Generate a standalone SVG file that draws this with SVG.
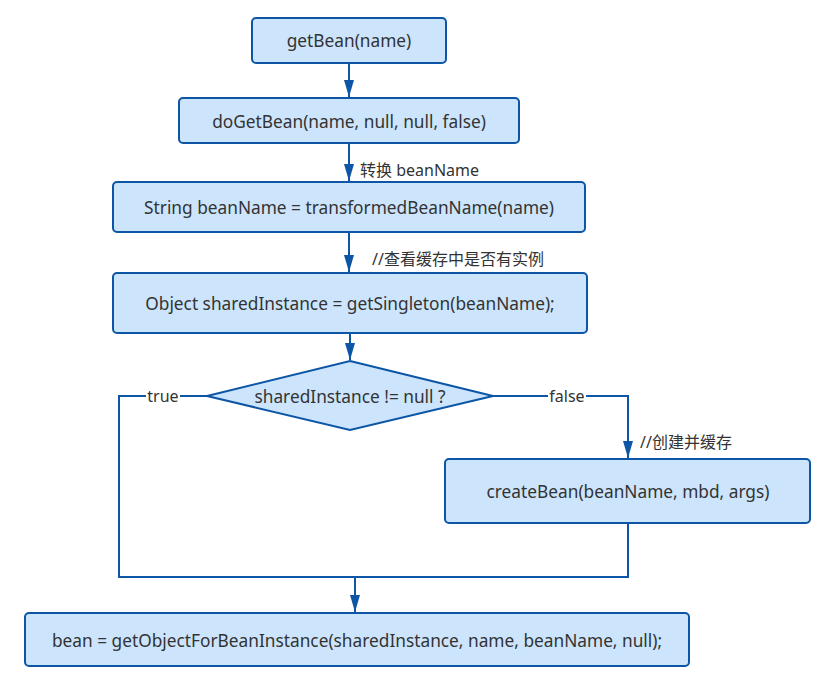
<svg xmlns="http://www.w3.org/2000/svg" width="819" height="691" viewBox="0 0 819 691">
<style>
.box{fill:#cce5fd;stroke:#0d56a6;stroke-width:2}
.t{font-family:"Noto Sans","Noto Sans CJK SC",sans-serif;font-size:17.3px;fill:#333;text-anchor:middle;dominant-baseline:central}
.l{font-family:"Noto Sans","Noto Sans CJK SC",sans-serif;font-size:16px;fill:#333;dominant-baseline:central}
.c{fill:none;stroke:#0d56a6;stroke-width:2}
.h{fill:#0d56a6}
</style>
<rect width="819" height="691" fill="#fff"/>
<g id="connectors">
<path class="c" d="M349,63 V97"/>
<path class="c" d="M349,143 V181"/>
<path class="c" d="M349,232 V272"/>
<path class="c" d="M350,333 V360"/>
<path class="c" d="M207,396 H119 V577 H628 V523"/>
<path class="c" d="M355,577 V612"/>
<path class="c" d="M493,396 H628 V458"/>
<path class="h" d="M344,80 L354,80 L349,97 Z"/>
<path class="h" d="M344,164 L354,164 L349,181 Z"/>
<path class="h" d="M344,255 L354,255 L349,272 Z"/>
<path class="h" d="M345,343 L355,343 L350,360 Z"/>
<path class="h" d="M350,595 L360,595 L355,612 Z"/>
<path class="h" d="M623,441 L633,441 L628,458 Z"/>
<rect x="146" y="386" width="34" height="20" fill="#fff"/>
<text class="l" x="163" y="396" text-anchor="middle">true</text>
<rect x="548" y="386" width="38" height="20" fill="#fff"/>
<text class="l" x="567" y="396" text-anchor="middle">false</text>
<text class="l" x="360" y="170">转换 beanName</text>
<text class="l" x="372" y="259" font-size="16.5">//查看缓存中是否有实例</text>
<text class="l" x="640" y="442" font-size="16.5">//创建并缓存</text>
</g>
<g id="getBean"><rect class="box" x="252" y="18" width="194" height="45" rx="4"/><text class="t" x="349" y="40">getBean(name)</text></g>
<g id="doGetBean"><rect class="box" x="179" y="98" width="340" height="45" rx="4"/><text class="t" x="349" y="121">doGetBean(name, null, null, false)</text></g>
<g id="transform"><rect class="box" x="113" y="182" width="472" height="50" rx="4"/><text class="t" x="349" y="207">String beanName = transformedBeanName(name)</text></g>
<g id="getSingleton"><rect class="box" x="113" y="273" width="474" height="60" rx="4"/><text class="t" x="350" y="303">Object sharedInstance = getSingleton(beanName);</text></g>
<g id="decision"><polygon class="box" points="350,361 493,396 350,430 207,396"/><text class="t" x="350" y="396">sharedInstance != null ?</text></g>
<g id="createBean"><rect class="box" x="445" y="459" width="365" height="64" rx="4"/><text class="t" x="628" y="491">createBean(beanName, mbd, args)</text></g>
<g id="getObject"><rect class="box" x="25" y="613" width="664" height="53" rx="4"/><text class="t" x="357" y="640">bean = getObjectForBeanInstance(sharedInstance, name, beanName, null);</text></g>
</svg>
